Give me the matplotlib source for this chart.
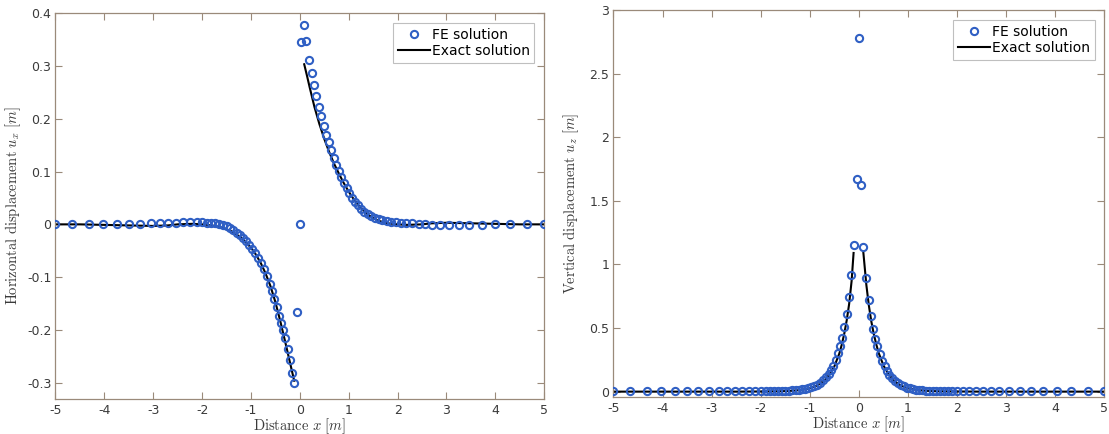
import matplotlib
matplotlib.use("Agg")
import matplotlib.pyplot as plt
from matplotlib.ticker import FuncFormatter, MultipleLocator

plt.rcParams["font.family"] = ["DejaVu Sans"]
plt.rcParams["mathtext.fontset"] = "cm"
plt.rcParams["axes.unicode_minus"] = False

# ---------------------------------------------------------------- data
# Horizontal displacement, FE nodes and values
ux_x = [-5.00, -4.66, -4.32, -4.03, -3.75, -3.50, -3.27, -3.05, -2.86, -2.69,
        -2.53, -2.38, -2.24, -2.11, -2.00, -1.90, -1.81, -1.73, -1.65, -1.57,
        -1.50, -1.43, -1.36, -1.29, -1.22, -1.16, -1.10, -1.04, -0.98, -0.92,
        -0.86, -0.80, -0.74, -0.68, -0.62, -0.57, -0.52, -0.47, -0.42, -0.38,
        -0.34, -0.30, -0.25, -0.20, -0.155, -0.11, -0.06, 0.00,
        0.03, 0.09, 0.13, 0.18, 0.24, 0.29, 0.34, 0.39, 0.44, 0.49,
        0.54, 0.59, 0.64, 0.69, 0.75, 0.80, 0.85, 0.90, 0.96, 1.01,
        1.07, 1.13, 1.19, 1.25, 1.32, 1.39, 1.46, 1.53, 1.61, 1.69,
        1.78, 1.87, 1.97, 2.07, 2.18, 2.30, 2.43, 2.57, 2.71, 2.87,
        3.05, 3.25, 3.47, 3.72, 4.00, 4.31, 4.64, 5.00]
ux_fe = [0.000, 0.000, 0.000, 0.000, 0.000, 0.001, 0.001, 0.002, 0.002, 0.003,
         0.003, 0.004, 0.004, 0.004, 0.004, 0.003, 0.003, 0.002, 0.000, -0.001,
         -0.004, -0.007, -0.011, -0.016, -0.021, -0.026, -0.032, -0.039, -0.046, -0.054,
         -0.063, -0.073, -0.085, -0.098, -0.113, -0.127, -0.142, -0.157, -0.173, -0.187,
         -0.200, -0.216, -0.236, -0.257, -0.282, -0.300, -0.166, 0.000,
         0.345, 0.377, 0.347, 0.311, 0.286, 0.263, 0.242, 0.223, 0.205, 0.187,
         0.170, 0.155, 0.140, 0.126, 0.112, 0.101, 0.090, 0.079, 0.068, 0.059,
         0.050, 0.043, 0.036, 0.029, 0.023, 0.019, 0.015, 0.012, 0.010, 0.008,
         0.006, 0.005, 0.004, 0.003, 0.002, 0.002, 0.001, 0.000, -0.001, -0.001,
         -0.002, -0.002, -0.001, -0.001, 0.000, 0.000, 0.000, 0.000]

# Horizontal displacement, exact solution (two branches)
ux_exact_x_neg = [-5.0, -4.5, -4.0, -3.5, -3.0, -2.7, -2.5, -2.2, -2.0, -1.8,
                  -1.6, -1.4, -1.2, -1.0, -0.9, -0.8, -0.7, -0.6, -0.5, -0.4,
                  -0.3, -0.2, -0.115]
ux_exact_neg = [0.000, 0.000, -0.001, -0.002, -0.003, -0.002, 0.000, 0.001, 0.000, -0.002,
                -0.006, -0.013, -0.025, -0.044, -0.057, -0.073, -0.093, -0.117, -0.147, -0.183,
                -0.222, -0.262, -0.296]
ux_exact_x_pos = [0.09, 0.15, 0.2, 0.3, 0.4, 0.5, 0.6, 0.7, 0.8, 0.9,
                  1.0, 1.1, 1.2, 1.3, 1.4, 1.5, 1.6, 1.8, 2.0, 2.2,
                  2.5, 2.7, 3.0, 3.5, 4.0, 4.5, 5.0]
ux_exact_pos = [0.303, 0.280, 0.260, 0.222, 0.190, 0.162, 0.137, 0.115, 0.096, 0.078,
                0.062, 0.048, 0.036, 0.026, 0.018, 0.012, 0.007, 0.002, 0.000, -0.001,
                0.000, 0.002, 0.003, 0.002, 0.001, 0.000, 0.000]

# Vertical displacement, FE nodes and values
uz_x = [-5.00, -4.66, -4.32, -4.03, -3.75, -3.50, -3.27, -3.05, -2.86, -2.69,
        -2.53, -2.38, -2.24, -2.11, -2.00, -1.90, -1.81, -1.73, -1.65, -1.57,
        -1.50, -1.43, -1.36, -1.29, -1.22, -1.16, -1.10, -1.04, -0.98, -0.92,
        -0.86, -0.80, -0.74, -0.68, -0.62, -0.57, -0.52, -0.47, -0.42, -0.38,
        -0.34, -0.30, -0.25, -0.20, -0.155, -0.11, -0.05, 0.00,
        0.05, 0.09, 0.15, 0.20, 0.24, 0.29, 0.33, 0.37, 0.42, 0.47,
        0.52, 0.57, 0.62, 0.68, 0.74, 0.80, 0.86, 0.92, 0.98, 1.04,
        1.10, 1.16, 1.22, 1.29, 1.36, 1.43, 1.50, 1.57, 1.65, 1.73,
        1.81, 1.90, 2.00, 2.11, 2.24, 2.38, 2.53, 2.69, 2.86, 3.05,
        3.27, 3.50, 3.75, 4.03, 4.32, 4.66, 5.00]
uz_fe = [0.002, 0.002, 0.002, 0.002, 0.002, 0.002, 0.002, 0.002, 0.002, 0.002,
         0.002, 0.002, 0.002, 0.002, 0.003, 0.003, 0.003, 0.004, 0.005, 0.006,
         0.007, 0.008, 0.010, 0.012, 0.015, 0.018, 0.022, 0.027, 0.035, 0.044,
         0.055, 0.070, 0.089, 0.112, 0.140, 0.168, 0.204, 0.248, 0.300, 0.355,
         0.420, 0.505, 0.610, 0.740, 0.914, 1.153, 1.670, 2.780,
         1.625, 1.135, 0.890, 0.718, 0.593, 0.491, 0.413, 0.358, 0.295, 0.243,
         0.200, 0.162, 0.132, 0.105, 0.083, 0.066, 0.052, 0.041, 0.032, 0.025,
         0.020, 0.016, 0.013, 0.010, 0.008, 0.006, 0.005, 0.004, 0.003, 0.003,
         0.003, 0.002, 0.002, 0.002, 0.002, 0.002, 0.002, 0.002, 0.002, 0.002,
         0.002, 0.002, 0.002, 0.002, 0.002, 0.002, 0.002]

# Vertical displacement, exact solution (two branches)
uz_exact_x_neg = [-5.0, -4.0, -3.0, -2.5, -2.0, -1.8, -1.6, -1.4, -1.2, -1.0,
                  -0.9, -0.8, -0.7, -0.6, -0.5, -0.4, -0.35, -0.3, -0.25, -0.2,
                  -0.15, -0.11]
uz_exact_neg = [0.000, 0.000, 0.000, 0.000, 0.001, 0.002, 0.003, 0.006, 0.012, 0.026,
                0.040, 0.060, 0.090, 0.135, 0.200, 0.300, 0.370, 0.455, 0.560, 0.690,
                0.870, 1.090]
uz_exact_x_pos = [0.09, 0.15, 0.2, 0.25, 0.3, 0.35, 0.4, 0.5, 0.6, 0.7,
                  0.8, 0.9, 1.0, 1.2, 1.4, 1.6, 1.8, 2.0, 2.5, 3.0,
                  4.0, 5.0]
uz_exact_pos = [1.090, 0.840, 0.680, 0.555, 0.455, 0.375, 0.305, 0.205, 0.138, 0.092,
                0.060, 0.040, 0.026, 0.012, 0.006, 0.003, 0.002, 0.001, 0.000, 0.000,
                0.000, 0.000]

# ---------------------------------------------------------------- style
FE_COLOR = "#2f5fc4"
FRAME_COLOR = "#9a8a7a"
TEXT_COLOR = "#3a3a3a"

fig = plt.figure(figsize=(11.09, 4.34), dpi=100)
ax1 = fig.add_axes([0.0500, 0.0813, 0.4407, 0.8887])
ax2 = fig.add_axes([0.5532, 0.0859, 0.4427, 0.8911])

def style_axes(ax):
    for sp in ax.spines.values():
        sp.set_color(FRAME_COLOR)
        sp.set_linewidth(0.9)
    ax.tick_params(direction="in", top=True, right=True, length=5,
                   width=0.8, color=FRAME_COLOR, labelcolor=TEXT_COLOR,
                   labelsize=9, pad=3)
    ax.tick_params(axis="x", pad=4)
    ax.set_xlim(-5, 5)
    ax.xaxis.set_major_locator(MultipleLocator(1))
    ax.yaxis.set_major_formatter(FuncFormatter(lambda v, p: f"{v:g}"))
    ax.xaxis.set_major_formatter(FuncFormatter(lambda v, p: f"{v:g}"))

def draw(ax, x, fe, xn, en, xp, ep):
    ax.plot(x, fe, "o", ms=5.2, mfc="none", mec=FE_COLOR, mew=1.5,
            label="FE solution", zorder=3)
    ax.plot(xn, en, "-", color="black", lw=1.5, label="Exact solution", zorder=2)
    ax.plot(xp, ep, "-", color="black", lw=1.5, zorder=2)
    leg = ax.legend(loc="upper right", fontsize=10, frameon=True, fancybox=False,
                    borderaxespad=0.7, handlelength=2.3, handletextpad=0.15,
                    borderpad=0.35, labelspacing=0.15)
    leg.get_frame().set_edgecolor("#b0b0b0")
    leg.get_frame().set_linewidth(0.8)

draw(ax1, ux_x, ux_fe, ux_exact_x_neg, ux_exact_neg, ux_exact_x_pos, ux_exact_pos)
style_axes(ax1)
ax1.set_ylim(-0.33, 0.4)
ax1.yaxis.set_major_locator(MultipleLocator(0.1))
ax1.set_xlabel(r"$\mathrm{Distance}\ x\ [m]$", fontsize=10.5, color=TEXT_COLOR, labelpad=-1)
ax1.set_ylabel(r"$\mathrm{Horizontal\ displacement}\ u_x\ [m]$", fontsize=10.5,
               color=TEXT_COLOR, labelpad=3)

draw(ax2, uz_x, uz_fe, uz_exact_x_neg, uz_exact_neg, uz_exact_x_pos, uz_exact_pos)
style_axes(ax2)
ax2.set_ylim(-0.04, 3)
ax2.yaxis.set_major_locator(MultipleLocator(0.5))
ax2.set_xlabel(r"$\mathrm{Distance}\ x\ [m]$", fontsize=10.5, color=TEXT_COLOR, labelpad=-1)
ax2.set_ylabel(r"$\mathrm{Vertical\ displacement}\ u_z\ [m]$", fontsize=10.5,
               color=TEXT_COLOR, labelpad=6)

fig.savefig("out.png", dpi=100)
